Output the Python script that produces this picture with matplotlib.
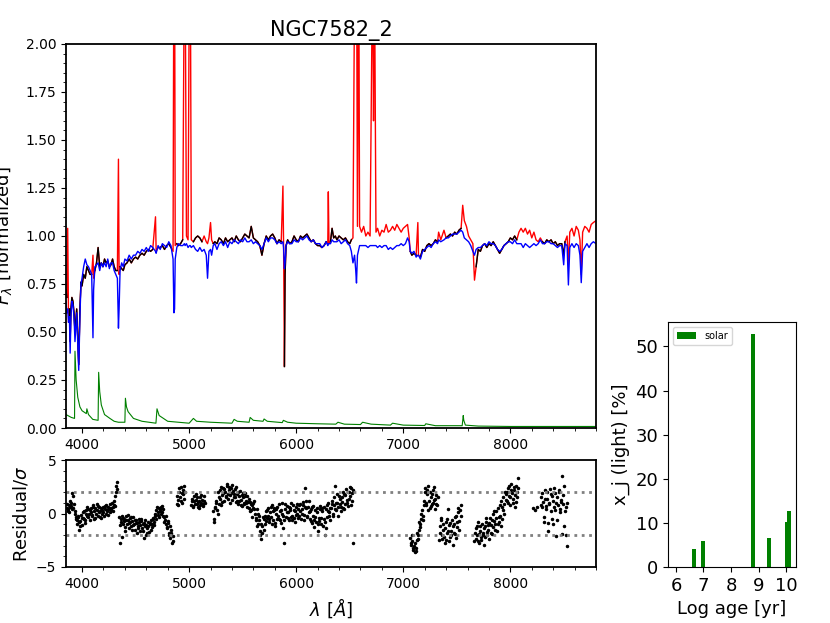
import numpy as np
import matplotlib.pyplot as plt
from matplotlib.ticker import MultipleLocator

wave = [3850, 3858, 3866, 3874, 3882, 3889, 3896, 3905, 3915, 3925,
        3934, 3950, 3969, 3980, 3990, 4000, 4015, 4030, 4045, 4060,
        4075, 4090, 4102, 4108, 4120, 4135, 4150, 4165, 4180, 4195,
        4210, 4225, 4240, 4255, 4270, 4285, 4300, 4315, 4330, 4340,
        4346, 4355, 4370, 4385, 4400, 4420, 4440, 4460, 4480, 4500,
        4520, 4540, 4560, 4580, 4600, 4620, 4640, 4660, 4686, 4692,
        4710, 4730, 4750, 4770, 4790, 4810, 4830, 4850, 4858, 4864,
        4870, 4885, 4900, 4920, 4940, 4956, 4962, 4975, 4990, 5003,
        5011, 5020, 5040, 5060, 5080, 5100, 5120, 5140, 5160, 5172,
        5185, 5200, 5210, 5225, 5240, 5260, 5280, 5300, 5320, 5340,
        5360, 5380, 5400, 5420, 5440, 5460, 5480, 5500, 5520, 5540,
        5560, 5580, 5600, 5620, 5640, 5660, 5680, 5700, 5720, 5740,
        5760, 5780, 5800, 5820, 5840, 5860, 5876, 5882, 5890, 5896,
        5905, 5920, 5940, 5960, 5980, 6000, 6020, 6040, 6060, 6080,
        6100, 6120, 6140, 6160, 6180, 6200, 6220, 6240, 6260, 6280,
        6295, 6300, 6306, 6320, 6335, 6350, 6365, 6380, 6400, 6420,
        6440, 6460, 6480, 6500, 6515, 6530, 6545, 6556, 6563, 6572,
        6584, 6592, 6610, 6630, 6650, 6670, 6690, 6714, 6722, 6730,
        6745, 6760, 6780, 6800, 6820, 6840, 6860, 6880, 6900, 6920,
        6940, 6960, 6980, 7000, 7020, 7040, 7055, 7065, 7080, 7100,
        7120, 7136, 7142, 7160, 7180, 7200, 7220, 7240, 7260, 7280,
        7300, 7320, 7330, 7350, 7380, 7400, 7420, 7440, 7460, 7480,
        7500, 7520, 7540, 7555, 7570, 7590, 7610, 7630, 7650, 7665,
        7680, 7700, 7720, 7740, 7760, 7780, 7800, 7820, 7840, 7860,
        7880, 7900, 7920, 7940, 7960, 7980, 8000, 8020, 8040, 8060,
        8080, 8100, 8120, 8140, 8160, 8180, 8200, 8220, 8240, 8260,
        8280, 8300, 8320, 8340, 8360, 8380, 8400, 8420, 8440, 8460,
        8480, 8498, 8510, 8530, 8542, 8555, 8575, 8595, 8615, 8635,
        8650, 8662, 8675, 8695, 8715, 8735, 8755, 8775, 8800]

f_obs = [0.72, 0.68, 1.04, 0.55, 0.62, 0.45, 0.62, 0.68, 0.66, 0.60,
         0.50, 0.62, 0.33, 0.62, 0.76, 0.74, 0.80, 0.78, 0.84, 0.82,
         0.80, 0.80, 0.90, 0.78, 0.82, 0.86, 0.94, 0.84, 0.86, 0.84,
         0.88, 0.86, 0.87, 0.84, 0.85, 0.88, 0.84, 0.82, 0.82, 1.40,
         0.80, 0.84, 0.83, 0.82, 0.85, 0.86, 0.88, 0.86, 0.88, 0.89,
         0.88, 0.90, 0.91, 0.90, 0.92, 0.93, 0.92, 0.93, 1.10, 0.92,
         0.94, 0.94, 0.95, 0.93, 0.95, 0.96, 0.94, 0.92, 2.60, 2.60,
         0.95, 0.96, 0.95, 0.96, 0.98, 2.50, 2.50, 1.00, 0.98, 2.50,
         2.50, 0.98, 0.97, 0.99, 1.00, 0.99, 0.97, 1.00, 0.97, 0.96,
         0.99, 1.07, 0.98, 0.96, 0.97, 0.96, 0.99, 0.98, 0.96, 0.99,
         0.97, 0.98, 0.99, 0.97, 1.00, 0.98, 0.97, 0.99, 1.01, 1.00,
         0.99, 1.05, 0.99, 0.98, 0.97, 0.95, 0.90, 0.96, 1.00, 0.98,
         1.00, 1.01, 0.99, 0.96, 0.98, 0.97, 1.26, 0.96, 0.32, 0.80,
         0.95, 0.98, 0.96, 0.97, 1.00, 0.98, 0.97, 1.00, 0.99, 1.00,
         1.01, 0.99, 0.97, 0.98, 0.96, 0.95, 0.95, 0.94, 0.95, 0.97,
         0.96, 1.23, 0.96, 0.97, 1.04, 0.99, 1.00, 0.98, 1.00, 0.99,
         0.98, 0.99, 0.97, 0.96, 0.98, 0.99, 2.30, 2.60, 2.60, 1.05,
         2.50, 1.05, 1.02, 1.05, 1.00, 1.02, 1.00, 2.50, 1.60, 2.50,
         1.02, 1.04, 1.00, 1.03, 1.02, 1.06, 1.02, 1.03, 1.05, 1.03,
         1.06, 1.04, 1.02, 1.04, 1.05, 1.06, 0.99, 0.92, 0.90, 0.91,
         0.90, 1.07, 0.90, 0.89, 0.93, 0.92, 0.95, 0.96, 0.95, 0.96,
         0.98, 0.97, 1.02, 0.98, 1.03, 0.99, 1.00, 1.01, 1.00, 1.02,
         1.01, 1.03, 1.04, 1.16, 1.08, 1.05, 1.00, 0.98, 0.96, 0.77,
         0.84, 0.93, 0.92, 0.95, 0.96, 0.94, 0.96, 0.95, 0.97, 0.95,
         0.93, 0.91, 0.93, 0.95, 0.96, 0.97, 0.99, 0.98, 1.00, 0.98,
         1.02, 1.04, 1.02, 1.04, 1.01, 1.03, 0.99, 1.02, 0.98, 0.97,
         0.99, 0.97, 0.96, 0.98, 0.97, 0.98, 0.96, 0.97, 0.95, 0.96,
         0.96, 0.90, 0.97, 1.00, 0.85, 1.02, 1.04, 1.00, 1.05, 1.03,
         0.98, 0.80, 1.02, 1.05, 1.04, 1.02, 1.06, 1.07, 1.08]

f_syn = [0.66, 0.60, 0.62, 0.55, 0.58, 0.39, 0.58, 0.66, 0.64, 0.58,
         0.45, 0.60, 0.30, 0.58, 0.75, 0.78, 0.84, 0.88, 0.85, 0.84,
         0.82, 0.80, 0.47, 0.72, 0.84, 0.85, 0.86, 0.82, 0.86, 0.84,
         0.86, 0.84, 0.88, 0.83, 0.86, 0.86, 0.82, 0.80, 0.78, 0.52,
         0.62, 0.82, 0.86, 0.84, 0.88, 0.87, 0.90, 0.88, 0.90, 0.90,
         0.92, 0.91, 0.93, 0.92, 0.94, 0.92, 0.95, 0.94, 0.92, 0.91,
         0.95, 0.93, 0.96, 0.95, 0.94, 0.97, 0.95, 0.88, 0.60, 0.62,
         0.88, 0.94, 0.96, 0.95, 0.95, 0.96, 0.95, 0.96, 0.94, 0.95,
         0.95, 0.94, 0.95, 0.93, 0.92, 0.94, 0.92, 0.93, 0.90, 0.78,
         0.92, 0.93, 0.90, 0.95, 0.96, 0.93, 0.96, 0.97, 0.95, 0.97,
         0.94, 0.97, 0.96, 0.98, 0.97, 0.96, 0.98, 0.97, 0.99, 0.97,
         0.97, 0.98, 0.96, 0.97, 0.96, 0.95, 0.93, 0.96, 0.99, 0.97,
         0.99, 0.99, 0.98, 0.96, 0.97, 0.96, 0.97, 0.94, 0.83, 0.86,
         0.95, 0.97, 0.96, 0.96, 0.98, 0.97, 0.97, 0.99, 0.98, 0.99,
         1.00, 0.98, 0.97, 0.98, 0.96, 0.96, 0.96, 0.94, 0.95, 0.97,
         0.95, 0.96, 0.96, 0.96, 0.98, 0.97, 0.97, 0.97, 0.98, 0.96,
         0.97, 0.98, 0.96, 0.95, 0.92, 0.86, 0.90, 0.82, 0.755, 0.90,
         0.93, 0.95, 0.95, 0.95, 0.95, 0.94, 0.95, 0.95, 0.95, 0.95,
         0.95, 0.94, 0.95, 0.94, 0.95, 0.95, 0.93, 0.94, 0.93, 0.94,
         0.95, 0.95, 0.96, 0.95, 0.96, 0.99, 0.97, 0.92, 0.91, 0.92,
         0.89, 0.90, 0.90, 0.88, 0.92, 0.93, 0.94, 0.95, 0.94, 0.96,
         0.97, 0.96, 0.98, 0.97, 0.98, 0.99, 0.99, 1.00, 1.01, 1.01,
         1.01, 1.02, 1.03, 1.02, 0.99, 0.98, 0.97, 0.95, 0.92, 0.90,
         0.93, 0.94, 0.94, 0.95, 0.96, 0.95, 0.97, 0.96, 0.96, 0.95,
         0.93, 0.92, 0.93, 0.95, 0.96, 0.97, 0.97, 0.96, 0.98, 0.96,
         0.96, 0.96, 0.94, 0.96, 0.95, 0.94, 0.95, 0.96, 0.95, 0.96,
         0.98, 0.96, 0.96, 0.97, 0.97, 0.96, 0.96, 0.95, 0.94, 0.95,
         0.95, 0.85, 0.96, 0.95, 0.745, 0.94, 0.96, 0.94, 0.96, 0.95,
         0.90, 0.757, 0.92, 0.94, 0.96, 0.94, 0.96, 0.97, 0.96]

# wavelength windows excluded from the fit (shown in red only)
masks = [(3860, 3880), (4096, 4110), (4335, 4350), (4680, 4695),
         (4845, 4880), (4950, 5025), (5130, 5215), (5870, 5882),
         (6295, 6306), (6520, 7060), (7130, 7142), (7322, 7334),
         (7374, 7386), (7545, 7665), (8070, 8290), (8525, 8800)]

# green curve
err_wave = [3850, 3900, 3930, 3934, 3945, 3960, 3980, 4000, 4040, 4045,
            4060, 4100, 4150, 4155, 4165, 4180, 4210, 4260, 4300, 4340,
            4400, 4405, 4415, 4430, 4480, 4560, 4690, 4700, 4720, 4800,
            4900, 5000, 5040, 5070, 5200, 5400, 5420, 5450, 5560, 5570,
            5600, 5690, 5700, 5730, 5870, 5880, 5920, 6000, 6200, 6370,
            6390, 6450, 6600, 6620, 6700, 6880, 6900, 7000, 7200, 7210,
            7300, 7550, 7560, 7565, 7580, 7700, 8000, 8800]
err_flux = [0.07, 0.055, 0.05, 0.40, 0.25, 0.16, 0.11, 0.09, 0.075, 0.10,
            0.07, 0.045, 0.04, 0.29, 0.19, 0.12, 0.07, 0.05, 0.035, 0.03,
            0.03, 0.155, 0.11, 0.085, 0.05, 0.035, 0.025, 0.10, 0.065, 0.035,
            0.03, 0.025, 0.05, 0.035, 0.03, 0.025, 0.045, 0.035, 0.03, 0.055,
            0.04, 0.035, 0.047, 0.035, 0.028, 0.04, 0.03, 0.025, 0.022, 0.02,
            0.03, 0.02, 0.018, 0.03, 0.02, 0.015, 0.025, 0.015, 0.013, 0.022,
            0.012, 0.012, 0.065, 0.04, 0.015, 0.01, 0.008, 0.008]

# residuals / sigma: (start wavelength, step) for each fitted chunk,
# two interleaved sets of points (second one at +step/2)
res_start = [3855, 4345, 4885, 5020, 5225, 7065, 7335, 7665, 8210, 8285]
res_step = [10, 10, 10, 10, 10, 10, 10, 10, 35, 10]
res_vals = [
    [0.5, 0.2, 0.8, 0.6, 1.0, 0.4, 1.6, 0.9, 0.2, -0.3,
     -0.6, -0.2, -0.8, -1.2, -0.4, 0.1, -0.5, -0.9, 0.3, -0.2,
     0.4, 0.0, -0.6, 0.5, -0.1, 0.6, 0.2, -0.4, 0.3, 0.7,
     0.1, -0.3, 0.5, 0.0, 0.6, -0.2, 0.4, 0.8, 0.2, -0.1,
     0.5, 0.9, 0.3, 0.6, 1.2, 0.7, 2.0, 2.9],
    [-0.3, -2.8, -0.8, -0.2, -1.0, -0.5, -1.3, -0.6, -0.1, -0.9,
     -0.4, -1.2, -0.7, -0.3, -1.0, -1.5, -0.6, -0.9, -1.4, -0.8,
     -1.1, -0.5, -1.6, -0.9, -1.2, -2.0, -1.4, -0.8, -1.7, -1.0,
     -0.6, -1.3, -0.4, -0.8, -0.2, 0.3, -0.1, 0.5, 0.2, 0.6,
     0.1, 0.4, -0.3, -0.6, -1.0, -1.4, -0.9, -1.8, -2.3, -1.5, -2.6],
    [0.9, 1.3, 2.0, 1.5, 2.5, 1.0, 1.8, 2.6],
    [0.8, 1.4, 0.6, 1.2, 1.8, 0.9, 1.1, 0.5, 1.5, 1.0, 1.3, 0.7, 1.6],
    [0.2, -0.5, 0.6, 1.2, 0.0, 1.5, 2.2, 0.8, 1.7, 2.4,
     1.2, 2.0, 1.6, 2.6, 1.4, 2.2, 1.0, 1.9, 2.7, 1.5,
     2.3, 1.1, 1.8, 0.9, 1.6, 2.1, 1.3, 0.7, 1.5, 1.0,
     1.9, 1.2, 0.6, 1.4, 0.2, 0.9, -0.3, 0.5, 1.2, 0.0,
     -0.6, 0.4, -1.0, -0.2, -1.6, -2.4, -1.2, -0.5, -1.0, 0.2,
     -0.4, 0.5, -0.8, 0.1, -0.3, 0.8, -0.6, 0.3, -1.2, 0.0,
     0.6, -0.5, 0.2, -0.9, 1.0, -0.2, -2.8, 0.4, -0.3, 0.7,
     0.1, -0.6, 0.5, 1.0, -0.2, 0.3, -0.8, 0.6, 0.0, -0.4,
     0.8, 0.2, -0.5, 0.4, 1.1, -0.1, 2.4, 0.5, -0.3, 1.2,
     0.2, -0.7, 0.6, -0.2, -1.3, 0.3, -0.8, 0.5, -1.6, -0.4,
     0.7, -1.0, 0.2, -0.5, -2.0, 0.4, -0.3, 1.0, 0.1, -0.6,
     0.5, 1.2, -0.2, 0.8, 2.6, 0.3, 1.0, 0.6, 1.4, 0.2,
     1.1, 0.5, 1.8, 0.9, 2.3, 1.3, 0.7, 2.0, 1.6, 2.4,
     1.2, -2.8],
    [-2.3, -2.9, -2.6, -3.4, -3.6, -3.2, -2.5, -2.0, -1.5, -1.0,
     -0.5, 0.3, -0.2, 1.2, 2.4, 0.8, 1.8, 2.6, 0.5, 1.5,
     0.9, 2.2, 1.3, 0.4, 1.7, 0.8],
    [-2.5, -1.2, -0.4, -2.0, -1.5, -2.8, -0.8, -1.8, 0.4, -1.1,
     -2.2, -1.6, -0.6, -2.9, -1.0, -1.9, -0.2, -1.3, 0.5, -0.7, 0.8],
    [-2.6, -1.4, -2.0, -0.8, -2.8, -1.6, -2.2, -1.0, -1.8, -2.9,
     -1.2, -0.4, -2.0, -1.5, -0.9, -1.8, -0.6, -1.3, 0.2, -1.0,
     -0.4, -1.6, 0.5, -0.8, -0.2, 1.2, -0.5, 0.3, 0.9, 1.8,
     1.2, 2.4, 1.6, 0.8, 2.8, 1.9, 1.4, 2.2, 0.6, 2.6,
     1.5, 3.3],
    [0.5, 0.6],
    [1.5, 0.6, 1.1, -0.8, 2.2, 0.4, 1.4, -1.6, 0.9, 1.8,
     -0.5, 1.2, 2.4, 0.3, -2.1, 1.5, 0.8, 2.0, 0.1, 1.3,
     3.5, 0.9, -1.2, 0.6, -3.0],
]
res_vals2 = [
    [0.9, 0.4, 0.1, 1.2, 0.7, 1.9, 0.5, 0.0, -0.5, -1.0,
     -0.3, -1.5, -0.7, -0.1, -1.1, -0.4, 0.2, -0.6, 0.0, 0.6,
     -0.3, 0.3, 0.1, -0.2, 0.8, -0.5, 0.5, 0.0, 0.9, -0.2,
     0.6, 0.2, -0.4, 0.3, 0.1, 0.7, 0.0, 0.3, 0.6, 0.4,
     0.1, 0.5, 1.0, 0.2, 0.8, 1.6, 2.6, 2.3],
    [-1.1, -0.5, -2.2, -0.4, -0.7, -1.6, -0.2, -1.0, -0.6, -1.4,
     -0.8, -0.3, -1.5, -1.1, -0.6, -0.9, -1.8, -1.2, -0.5, -1.6,
     -0.7, -1.4, -1.0, -2.3, -0.6, -1.1, -1.8, -1.2, -0.9, -1.5,
     -1.0, -0.5, -1.1, 0.0, -0.5, 0.6, 0.1, -0.3, 0.4, 0.0,
     0.7, -0.2, -0.8, -0.2, -1.3, -0.7, -2.0, -1.2, -1.8, -2.8, -2.1],
    [1.6, 0.8, 2.4, 1.2, 1.9, 2.2, 1.4, 2.0],
    [1.2, 0.7, 1.6, 0.9, 1.3, 1.5, 0.6, 1.2, 0.8, 1.7, 0.9, 1.2, 1.0],
    [-0.8, 0.5, 1.0, 0.3, 2.0, 0.9, 1.4, 2.5, 1.1, 1.9,
     2.3, 1.5, 2.8, 1.8, 2.5, 1.7, 2.4, 1.3, 2.1, 1.8,
     1.5, 2.5, 1.2, 2.0, 1.2, 0.8, 1.7, 1.9, 0.9, 1.6,
     1.0, 1.6, 1.1, 0.5, 1.1, 0.3, 0.8, 1.0, 0.4, -0.4,
     -1.2, 0.0, -0.6, -2.0, -1.0, -1.8, -0.3, -1.5, -0.2, -0.7,
     0.3, -0.2, -0.5, 0.6, -1.0, 0.2, 0.5, -0.9, 0.4, -0.5,
     -0.2, 0.9, -0.6, 0.3, 0.0, -1.4, -0.6, 0.9, 0.1, -0.4,
     0.6, 0.3, -0.3, -0.6, 0.8, -0.4, 0.2, -0.1, 0.9, 0.4,
     -0.2, 0.9, 0.0, 0.8, -0.6, 0.6, 1.2, -0.2, 0.6, 0.1,
     -0.5, 0.4, -0.9, 0.7, -0.6, -0.3, 0.1, -1.0, -0.7, 0.4,
     -0.4, 0.5, -1.2, 0.6, -0.8, -1.4, 0.8, 0.2, -0.2, 0.5,
     0.9, 0.0, 1.5, 0.4, 1.0, 1.8, -0.2, 1.6, 0.9, 0.6,
     1.5, 2.0, 0.4, 1.7, 1.0, 2.0, 1.4, 2.5, 0.8, 1.9,
     2.2],
    [-2.8, -2.0, -3.2, -3.0, -2.8, -3.5, -1.8, -2.4, -0.8, -1.3,
     0.0, -0.6, 0.8, 2.0, 1.0, 2.2, 0.3, 1.2, 2.0, 0.7,
     1.8, 1.0, 2.5, 1.4, 0.9, 1.5],
    [-1.8, -0.6, -2.4, -1.0, -2.2, -1.4, -2.5, -0.5, -1.6, -2.6,
     -0.9, -2.0, -1.2, -1.8, -0.3, -2.3, -0.8, 0.1, -1.5, 0.3, -0.2],
    [-1.8, -2.4, -1.2, -2.6, -1.9, -1.2, -2.5, -2.0, -1.4, -2.2,
     -0.8, -1.7, -1.1, -2.4, -0.4, -1.1, -1.9, 0.0, -0.7, -1.5,
     0.2, -1.0, -0.3, 0.8, -1.2, 0.6, 1.5, 0.0, 2.0, 1.3,
     2.0, 1.0, 2.6, 1.5, 2.2, 1.0, 2.5, 1.7, 1.1, 2.0,
     2.4],
    [0.3],
    [0.8, 1.9, -0.3, 1.4, 0.7, 2.0, -0.9, 1.0, 2.3, 0.2,
     1.6, -1.0, 0.6, 1.9, 1.0, -0.6, 2.2, 0.4, 1.1, -1.9,
     1.7, 2.6, 0.2, -2.0, 1.0],
]

# light fractions per age (solar metallicity)
log_age = [6.66, 6.98, 8.79, 9.37, 10.02, 10.10]
x_j = [4.0, 5.9, 52.9, 6.5, 10.1, 12.7]

wave = np.array(wave)
f_obs = np.array(f_obs)
f_syn = np.array(f_syn)
f_fit = f_obs.copy()
for lo, hi in masks:
    f_fit[(wave >= lo) & (wave <= hi)] = np.nan

fig = plt.figure(figsize=(8.3, 6.23), dpi=100)
ax1 = fig.add_axes([0.0795, 0.313, 0.6386, 0.6164])
ax2 = fig.add_axes([0.0795, 0.0899, 0.6386, 0.1717])
ax3 = fig.add_axes([0.8048, 0.0899, 0.1542, 0.3933])

ax1.plot(wave, f_obs, color='red', lw=1)
ax1.plot(wave, f_fit, color='black', lw=1)
ax1.plot(wave, f_syn, color='blue', lw=1)
ax1.plot(err_wave, err_flux, color='green', lw=0.8)
ax1.set_xlim(3850, 8800)
ax1.set_ylim(0, 2)
ax1.xaxis.set_major_locator(MultipleLocator(1000))
ax1.xaxis.set_minor_locator(MultipleLocator(200))
ax1.yaxis.set_major_locator(MultipleLocator(0.25))
ax1.yaxis.set_minor_locator(MultipleLocator(0.05))
ax1.set_ylabel(r'$F_\lambda$ [normalized]', fontsize=13, labelpad=8)
ax1.set_title('NGC7582_2', fontsize=15)

for start, step, v1, v2 in zip(res_start, res_step, res_vals, res_vals2):
    ax2.plot(start + step * np.arange(len(v1)), v1, 'k.', ms=3)
    ax2.plot(start + step / 2 + step * np.arange(len(v2)), v2, 'k.', ms=3)
ax2.axhline(2, color='gray', ls=':', lw=2)
ax2.axhline(-2, color='gray', ls=':', lw=2)
ax2.set_xlim(3850, 8800)
ax2.set_ylim(-5, 5)
ax2.xaxis.set_major_locator(MultipleLocator(1000))
ax2.xaxis.set_minor_locator(MultipleLocator(200))
ax2.yaxis.set_major_locator(MultipleLocator(5))
ax2.yaxis.set_minor_locator(MultipleLocator(1))
ax2.set_ylabel(r'Residual/$\sigma$', fontsize=13)
ax2.set_xlabel(r'$\lambda$ [$\AA$]', fontsize=13)

for ax in (ax1, ax2):
    ax.tick_params(labelsize=10)
    for s in ax.spines.values():
        s.set_linewidth(1.3)

ax3.bar(log_age, x_j, width=0.15, color='green', label='solar')
ax3.set_xlim(5.71, 10.36)
ax3.set_xticks([6, 7, 8, 9, 10])
ax3.tick_params(labelsize=13)
ax3.set_xlabel('Log age [yr]', fontsize=13)
ax3.set_ylabel('x_j (light) [%]', fontsize=13)
ax3.legend(loc='upper left', fontsize=7)

fig.savefig('out.png', dpi=100)
